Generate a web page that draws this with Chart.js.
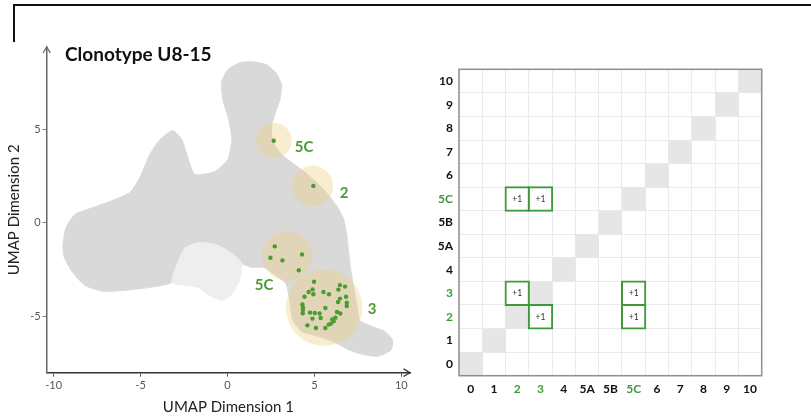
<!DOCTYPE html>
<html>
<head>
<meta charset="utf-8">
<script src="https://cdn.jsdelivr.net/npm/chart.js@4.4.1/dist/chart.umd.min.js"></script>
<style>
  html, body { margin: 0; padding: 0; background: #fff; }
  #wrap { position: relative; width: 811px; height: 420px; overflow: hidden; }
  .frameH { position: absolute; left: 13px; top: 4px; width: 798px; height: 2px; background: #111; }
  .frameV { position: absolute; left: 13px; top: 4px; width: 2px; height: 38px; background: #111; }
  #umapBox { position: absolute; left: 0; top: 0; width: 420px; height: 420px; }
  #pairBox { position: absolute; left: 420px; top: 0; width: 391px; height: 420px; }
</style>
</head>
<body>
<div id="wrap">
  <div class="frameH"></div>
  <div class="frameV"></div>
  <div id="umapBox"><canvas id="umap"></canvas></div>
  <div id="pairBox"><canvas id="pairs"></canvas></div>
</div>
<script>
// ---------- UMAP panel data ----------
// Outline of the dense cell cloud (UMAP units)
const cloudOutline = [
  [-9.47,-1.15],[-9.29,-0.24],[-8.78,0.45],[-7.91,0.77],[-6.76,1.15],[-5.61,1.63],[-5.04,2.43],
  [-4.47,3.65],[-3.89,4.45],[-3.14,4.93],[-2.63,4.45],[-2.28,3.49],[-1.88,2.59],[-0.73,2.75],
  [0.02,3.39],[0.25,4.45],[0.07,5.52],[-0.27,6.59],[-0.33,7.55],[0.02,8.19],[0.71,8.56],
  [1.45,8.61],[2.26,8.45],[2.83,7.97],[3.12,7.33],[3.01,6.59],[2.78,5.95],[2.55,5.25],
  [2.55,4.61],[2.78,4.03],[3.24,3.55],[3.93,3.07],[4.61,2.59],[5.30,2.00],[5.88,1.41],
  [6.34,0.83],[6.68,0.19],[6.86,-0.61],[6.97,-1.52],[7.09,-2.48],[7.26,-3.44],[7.43,-4.35],
  [7.60,-5.20],[8.29,-5.52],[9.04,-5.79],[9.50,-6.27],[9.39,-6.80],[8.64,-7.12],[7.72,-7.01],
  [6.91,-6.75],[6.17,-6.37],[5.19,-6.05],[4.27,-5.79],[3.75,-5.15],[3.58,-4.08],[3.35,-3.23],
  [2.78,-2.80],[2.09,-2.37],[1.40,-2.37],[0.82,-2.16],[0.25,-1.63],[-0.56,-1.20],[-1.59,-1.04],
  [-2.45,-1.31],[-2.91,-2.21],[-3.20,-3.17],[-4.47,-3.44],[-5.90,-3.60],[-7.17,-3.65],
  [-8.20,-3.33],[-8.95,-2.59],[-9.41,-1.79],[-9.47,-1.15]
];
// Sparsely populated pocket below the main body
const sparseNotch = [
  [-2.45,-1.31],[-1.59,-1.04],[-0.56,-1.20],[0.25,-1.63],[0.82,-2.16],[0.71,-3.01],[0.25,-3.81],
  [-0.33,-4.13],[-1.02,-3.87],[-1.71,-3.44],[-2.45,-3.33],[-3.20,-3.17],[-2.91,-2.21],[-2.45,-1.31]
];
// Clusters that hold the clonotype: centre, radius (UMAP units) and name
const clusterNames  = ['5C', '2', '5C', '3'];
const clusterX      = [2.66, 4.90, 3.44, 5.56];
const clusterY      = [4.40, 1.97, -1.76, -4.53];
const clusterRadius = [1.03, 1.18, 1.43, 2.20];
// Cells carrying clonotype U8-15
const cloneCells = [
  [2.66,4.39],
  [4.94,1.98],
  [2.72,-1.25],[2.47,-1.86],[3.16,-2.00],[4.29,-1.68],[4.10,-2.53],
  [4.98,-3.14],[4.90,-3.55],[4.67,-3.69],[4.94,-3.81],[4.43,-3.94],[5.52,-3.69],[5.84,-3.81],
  [6.47,-3.32],[6.76,-3.40],[6.38,-3.56],[6.82,-3.94],[6.47,-4.04],[6.36,-4.22],[6.86,-4.26],
  [6.86,-4.44],[4.31,-4.36],[4.34,-4.51],[4.34,-4.65],[4.33,-4.83],[4.75,-4.79],[5.02,-4.81],
  [5.63,-4.54],[5.30,-4.84],[5.36,-5.08],[4.89,-5.11],[6.30,-4.76],[6.49,-4.84],[6.21,-5.06],
  [6.03,-5.15],[6.11,-5.25],[5.94,-5.38],[5.82,-5.43],[5.63,-5.61],[5.09,-5.61],[4.60,-5.47]
];
const xTickValues = [-10, -5, 0, 5, 10];
const yTickValues = [-5, 0, 5];

// ---------- cluster pairing panel data ----------
const clusterLabels = ['0', '1', '2', '3', '4', '5A', '5B', '5C', '6', '7', '8', '9', '10'];
const highlighted   = ['2', '3', '5C'];
const pairFrom   = ['2', '3', '2', '5C', '3', '5C'];
const pairTo     = ['5C', '5C', '3', '3', '2', '2'];
const pairCounts = [1, 1, 1, 1, 1, 1];

// ---------- styling / layout ----------
const GREEN = '#4a9b32';
const BOX_GREEN = '#3c9a3c';
const CLOUD = '#d9d9d9';
const SPARSE = '#eeeeee';
const GRID = '#e8ebea';
const X_MIN = -10.4, X_MAX = 10.5, Y_MIN = -8, Y_MAX = 9.4;
const AREA_LEFT = 46.7, AREA_RIGHT = 410;        // plot area of the UMAP panel, px
const PX_PER_UNIT = (AREA_RIGHT - AREA_LEFT) / (X_MAX - X_MIN);
Chart.defaults.font.family = "Lato, 'Open Sans', sans-serif";

const toPts = arr => arr.map(([x, y]) => ({ x, y }));

const umapDecor = {
  id: 'umapDecor',
  afterDraw(chart) {
    const { ctx, chartArea: a, scales } = chart;
    ctx.save();
    // axis arrow heads
    ctx.lineWidth = 1.3;
    ctx.strokeStyle = '#666';
    ctx.beginPath();
    ctx.moveTo(a.left - 3.6, a.top + 6); ctx.lineTo(a.left, a.top); ctx.lineTo(a.left + 3.6, a.top + 6);
    ctx.stroke();
    ctx.strokeStyle = '#333';
    ctx.beginPath();
    ctx.moveTo(a.right - 6.5, a.bottom - 3.8); ctx.lineTo(a.right, a.bottom); ctx.lineTo(a.right - 6.5, a.bottom + 3.8);
    ctx.stroke();
    // panel title
    ctx.fillStyle = '#111';
    ctx.font = "bold 19px Lato, 'Open Sans', sans-serif";
    ctx.textAlign = 'left';
    ctx.textBaseline = 'middle';
    ctx.fillText('Clonotype U8-15', 65, 55);
    // cluster names beside their circles
    const offs = chart.options.plugins.umapDecor.labelOffsets;
    ctx.fillStyle = GREEN;
    ctx.font = "bold 15px Lato, 'Open Sans', sans-serif";
    clusterNames.forEach((name, i) => {
      const px = scales.x.getPixelForValue(clusterX[i]);
      const py = scales.y.getPixelForValue(clusterY[i]);
      ctx.fillText(name, px + offs[i][0], py + offs[i][1]);
    });
    ctx.restore();
  }
};

new Chart(document.getElementById('umap'), {
  type: 'scatter',
  data: {
    datasets: [
      { label: 'cells', data: toPts(cloudOutline), showLine: true, fill: 'shape', tension: 0.2,
        backgroundColor: CLOUD, borderColor: CLOUD, borderWidth: 1, pointRadius: 0, order: 5 },
      { label: 'sparse cells', data: toPts(sparseNotch), showLine: true, fill: 'shape', tension: 0.2,
        backgroundColor: SPARSE, borderColor: SPARSE, borderWidth: 1, pointRadius: 0, order: 4 },
      { type: 'bubble', label: 'clusters',
        data: clusterX.map((x, i) => ({ x, y: clusterY[i], r: clusterRadius[i] * PX_PER_UNIT })),
        backgroundColor: 'rgba(235,205,120,0.36)', borderColor: 'rgba(0,0,0,0)', borderWidth: 0,
        order: 2 },
      { label: 'U8-15', data: toPts(cloneCells), backgroundColor: GREEN, borderWidth: 0,
        pointRadius: 2.2, order: 1 }
    ]
  },
  options: {
    responsive: true, maintainAspectRatio: false, animation: false, events: [],
    layout: { autoPadding: false, padding: { left: 0, top: 47, right: 420 - AREA_RIGHT, bottom: 0 } },
    plugins: {
      legend: { display: false }, tooltip: { enabled: false },
      umapDecor: { labelOffsets: [[21, 7], [27, 7.5], [-32.5, 29.5], [43.5, 1]] }
    },
    scales: {
      x: {
        type: 'linear', min: X_MIN, max: X_MAX,
        afterBuildTicks: s => { s.ticks = xTickValues.map(v => ({ value: v })); },
        afterFit: s => { s.height = 47.3; },
        grid: { drawOnChartArea: false, drawTicks: true, tickLength: 4, color: '#555' },
        border: { display: true, color: '#333', width: 1.5 },
        ticks: { color: '#555', font: { size: 11 }, padding: 2, maxRotation: 0 },
        title: { display: true, text: 'UMAP Dimension 1', color: '#222', font: { size: 15 },
                 padding: { top: 0, bottom: 4 } }
      },
      y: {
        type: 'linear', min: Y_MIN, max: Y_MAX,
        afterBuildTicks: s => { s.ticks = yTickValues.map(v => ({ value: v })); },
        afterFit: s => { s.width = AREA_LEFT; },
        grid: { drawOnChartArea: false, drawTicks: true, tickLength: 4, color: '#777' },
        border: { display: true, color: '#666', width: 1.5 },
        ticks: { color: '#555', font: { size: 11 }, padding: 2 },
        title: { display: true, text: 'UMAP Dimension 2', color: '#222', font: { size: 15 },
                 padding: { top: 5, bottom: 0 } }
      }
    }
  },
  plugins: [umapDecor]
});

// ---------- cluster pairing panel ----------
const rowOf = c => clusterLabels.indexOf(c);
const labelColor = ctx => highlighted.includes(ctx.tick && ctx.tick.label) ? BOX_GREEN : '#111';

const pairDecor = {
  id: 'pairDecor',
  afterDatasetsDraw(chart) {
    const { ctx } = chart;
    const meta = chart.getDatasetMeta(0);
    ctx.save();
    ctx.fillStyle = '#333';
    ctx.font = "8.5px Lato, 'Open Sans', sans-serif";
    ctx.textAlign = 'center';
    ctx.textBaseline = 'middle';
    meta.data.forEach((el, i) => {
      const p = el.getCenterPoint();
      ctx.fillText('+' + pairCounts[i], p.x, p.y);
    });
    ctx.restore();
  },
  afterDraw(chart) {
    const { ctx, chartArea: a } = chart;
    ctx.save();
    ctx.strokeStyle = '#8e8e8e';
    ctx.lineWidth = 1.5;
    ctx.strokeRect(a.left, a.top, a.right - a.left, a.bottom - a.top);
    ctx.restore();
  }
};

new Chart(document.getElementById('pairs'), {
  type: 'bar',
  data: {
    labels: clusterLabels,
    datasets: [
      { label: 'shared clonotype',
        data: pairFrom.map((c, i) => ({ x: c, y: [rowOf(pairTo[i]) - 0.5, rowOf(pairTo[i]) + 0.5] })),
        backgroundColor: '#ffffff', borderColor: BOX_GREEN, borderWidth: 2, borderSkipped: false,
        inflateAmount: 1, grouped: false, barPercentage: 1, categoryPercentage: 1,
        yAxisID: 'y', order: 1 },
      { label: 'same cluster',
        data: clusterLabels.map((c, i) => ({ x: c, y: [i - 0.5, i + 0.5] })),
        backgroundColor: '#e5e6e5', borderWidth: 0, inflateAmount: 0, grouped: false,
        barPercentage: 1, categoryPercentage: 1, yAxisID: 'y', order: 2 }
    ]
  },
  options: {
    responsive: true, maintainAspectRatio: false, animation: false, events: [],
    layout: { padding: { left: 0, top: 69.3, right: 49.3, bottom: 14.3 } },
    plugins: { legend: { display: false }, tooltip: { enabled: false } },
    scales: {
      x: {
        type: 'category', offset: true,
        grid: { offset: true, color: GRID, drawTicks: false },
        border: { display: false },
        ticks: { padding: 6, color: labelColor, font: { size: 12, weight: 'bold' }, maxRotation: 0 },
        afterFit: s => { s.height = 30; }
      },
      y: {
        type: 'linear', position: 'left', min: -0.5, max: 12.5,
        afterBuildTicks: s => { s.ticks = clusterLabels.map((_, i) => ({ value: i })); },
        ticks: { callback: v => clusterLabels[v], padding: 6, color: labelColor,
                 font: { size: 12, weight: 'bold' } },
        grid: { display: false, drawTicks: false },
        border: { display: false },
        afterFit: s => { s.width = 39; }
      },
      yGrid: {
        type: 'linear', position: 'left', min: -0.5, max: 12.5,
        afterBuildTicks: s => {
          s.ticks = clusterLabels.concat(['']).map((_, i) => ({ value: i - 0.5 }));
        },
        ticks: { display: false },
        grid: { color: GRID, drawTicks: false },
        border: { display: false },
        afterFit: s => { s.width = 0; }
      }
    }
  },
  plugins: [pairDecor]
});
</script>
</body>
</html>
